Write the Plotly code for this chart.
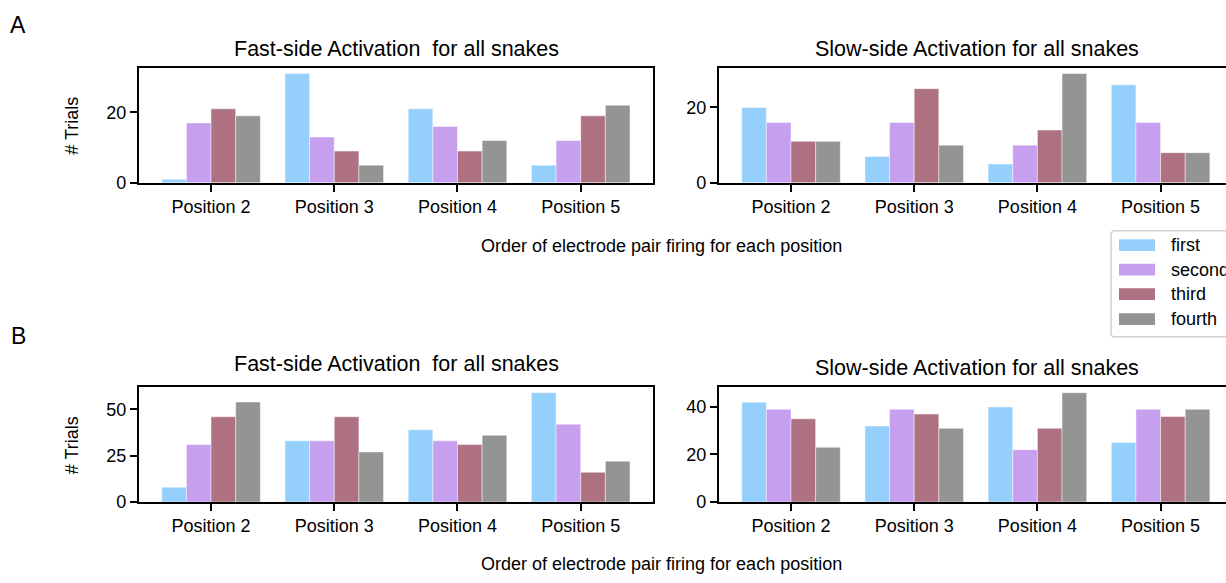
import plotly.graph_objects as go

# ---------------- data ----------------
positions = ["Position 2", "Position 3", "Position 4", "Position 5"]
orders = ["first", "second", "third", "fourth"]

# Panel A
fast_A_first = [1, 31, 21, 5]
fast_A_second = [17, 13, 16, 12]
fast_A_third = [21, 9, 9, 19]
fast_A_fourth = [19, 5, 12, 22]

slow_A_first = [20, 7, 5, 26]
slow_A_second = [16, 16, 10, 16]
slow_A_third = [11, 25, 14, 8]
slow_A_fourth = [11, 10, 29, 8]

# Panel B
fast_B_first = [8, 33, 39, 59]
fast_B_second = [31, 33, 33, 42]
fast_B_third = [46, 46, 31, 16]
fast_B_fourth = [54, 27, 36, 22]

slow_B_first = [42, 32, 40, 25]
slow_B_second = [39, 39, 22, 39]
slow_B_third = [35, 37, 31, 36]
slow_B_fourth = [23, 31, 46, 39]

fast_title = "Fast-side Activation  for all snakes"
slow_title = "Slow-side Activation for all snakes"
x_label = "Order of electrode pair firing for each position"
y_label = "# Trials"

colors = ["#95d0fc", "#c79fef", "#ae7181", "#929591"]

# ---------------- layout helpers ----------------
W, H = 1226, 583
def fx(p):
    return p / W
def fy(p):
    return 1 - p / H

FONT = "Liberation Sans, Arial, Helvetica, sans-serif"
TICK = 18
TITLE = 21.5

panels = [
    ([fast_A_first, fast_A_second, fast_A_third, fast_A_fourth], "x", "y", 138.7, 653.3, 69.3, 186.0, [-0.587, 3.589], [0, 20], False),
    ([slow_A_first, slow_A_second, slow_A_third, slow_A_fourth], "x2", "y2", 718.7, 1226.0, 69.3, 186.0, [-0.587, 3.531], [0, 20], True),
    ([fast_B_first, fast_B_second, fast_B_third, fast_B_fourth], "x3", "y3", 138.7, 653.3, 394.0, 510.7, [-0.587, 3.589], [0, 25, 50], False),
    ([slow_B_first, slow_B_second, slow_B_third, slow_B_fourth], "x4", "y4", 718.7, 1226.0, 394.0, 510.7, [-0.587, 3.531], [0, 20, 40], True),
]

fig = go.Figure()
layout = {}
for series, xa, ya, x0, x1, yt, yb, xr, yticks, clipped in panels:
    for name, vals, col in zip(orders, series, colors):
        fig.add_trace(go.Bar(
            x=positions, y=vals, name=name, xaxis=xa, yaxis=ya,
            marker=dict(color=col, line=dict(width=1, color="rgba(255,255,255,0.45)")),
            showlegend=False, hoverinfo="skip",
        ))
    ymax = max(max(s) for s in series) * 1.05
    xkey = "xaxis" if xa == "x" else "xaxis" + xa[1:]
    ykey = "yaxis" if ya == "y" else "yaxis" + ya[1:]
    layout[xkey] = dict(
        domain=[fx(x0), fx(x1)], anchor=ya, type="category", range=xr,
        showline=True, linecolor="black", linewidth=1.6, mirror=True,
        ticks="outside", ticklen=7, tickwidth=1.5, tickcolor="black",
        tickfont=dict(size=TICK, color="black", family=FONT),
        showgrid=False, zeroline=False, fixedrange=True,
    )
    layout[ykey] = dict(
        domain=[fy(yb), fy(yt)], anchor=xa, range=[0, ymax],
        tickvals=yticks,
        showline=True, linecolor="black", linewidth=1.6, mirror=(not clipped),
        ticks="outside", ticklen=7, tickwidth=1.5, tickcolor="black",
        tickfont=dict(size=TICK, color="black", family=FONT),
        showgrid=False, zeroline=False, fixedrange=True,
    )

annotations = []
def text(s, xpx, ypx, size, angle=0, xanchor="center"):
    annotations.append(dict(
        text=s, x=fx(xpx), y=fy(ypx), xref="paper", yref="paper",
        xanchor=xanchor, yanchor="middle", showarrow=False, textangle=angle,
        font=dict(size=size, color="black", family=FONT),
    ))

text(fast_title, 396, 50, TITLE)
text(slow_title, 977, 50, TITLE)
text(fast_title, 396, 370, TITLE)
text(slow_title, 977, 374, TITLE)
text(x_label, 661.5, 250, TICK)
text(x_label, 661.5, 574, TICK)
text(y_label, 72, 128, TICK, angle=-90)
text(y_label, 72, 453, TICK, angle=-90)
text("A", 18, 25, 23)
text("B", 18, 342, 23)

# legend (drawn manually to match wide patches)
shapes = []
lx0, ly0, ly1, r = 1111, 234.7, 342.7, 4
X0, X1 = fx(lx0), fx(1240)
Y0, Y1 = fy(ly0), fy(ly1)
rx, ry = r / W, r / H
path = (f"M {X0+rx},{Y0} L {X1},{Y0} L {X1},{Y1} L {X0+rx},{Y1} "
        f"Q {X0},{Y1} {X0},{Y1+ry} L {X0},{Y0-ry} Q {X0},{Y0} {X0+rx},{Y0} Z")
shapes.append(dict(type="path", path=path, xref="paper", yref="paper",
                   line=dict(color="#d0d0d0", width=1.5), fillcolor="rgba(255,255,255,0.8)"))
entry_y = [249.3, 274.3, 299.3, 324.7]
for name, col, ey in zip(orders, colors, entry_y):
    shapes.append(dict(type="rect", xref="paper", yref="paper",
                       x0=fx(1119), x1=fx(1155), y0=fy(ey - 6), y1=fy(ey + 6),
                       fillcolor=col, line=dict(width=0)))
    text(name, 1169, ey, TICK, xanchor="left")

fig.update_layout(
    **layout,
    width=W, height=H,
    margin=dict(l=0, r=0, t=0, b=0),
    paper_bgcolor="white", plot_bgcolor="white",
    barmode="group", bargap=0.2, bargroupgap=0,
    annotations=annotations, shapes=shapes,
    font=dict(family=FONT, color="black"),
    hovermode=False,
)

fig.write_html("out.html", config={"displayModeBar": False})
